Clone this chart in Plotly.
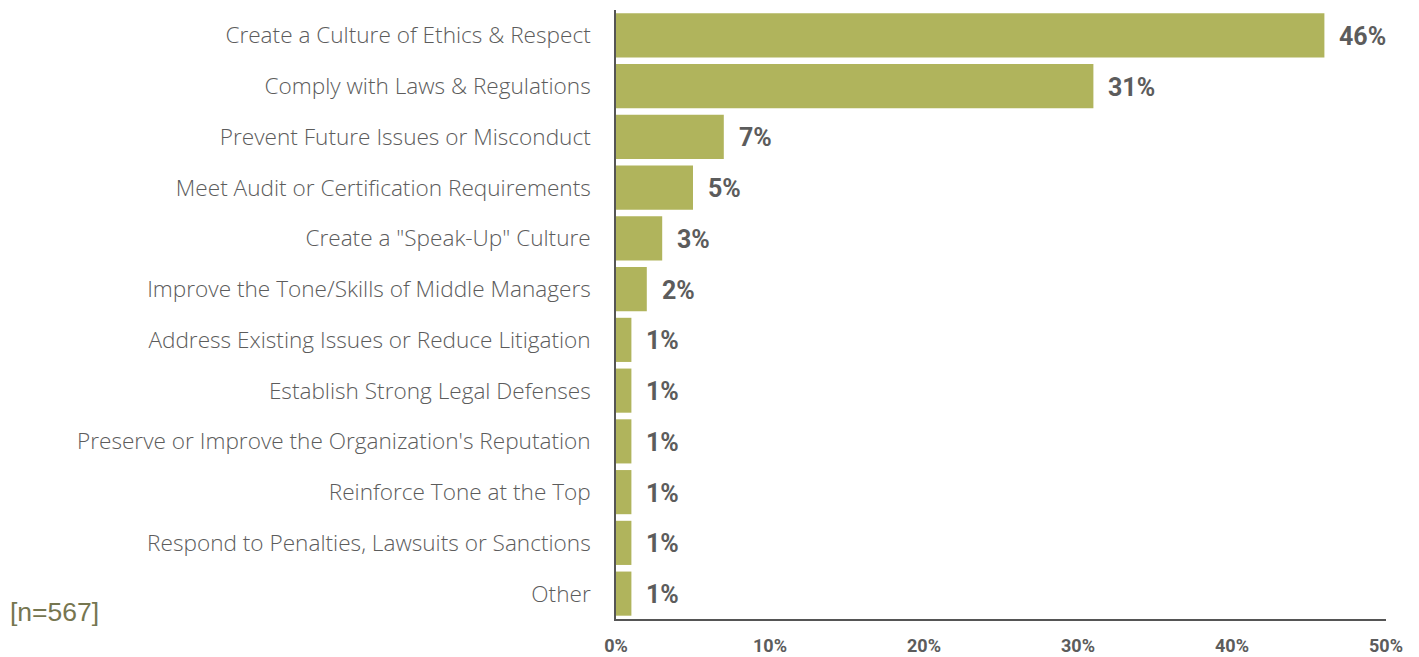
import plotly.graph_objects as go

# Survey responses: primary goal of the ethics & compliance program
categories = [
    "Create a Culture of Ethics & Respect",
    "Comply with Laws & Regulations",
    "Prevent Future Issues or Misconduct",
    "Meet Audit or Certification Requirements",
    "Create a \"Speak-Up\" Culture",
    "Improve the Tone/Skills of Middle Managers",
    "Address Existing Issues or Reduce Litigation",
    "Establish Strong Legal Defenses",
    "Preserve or Improve the Organization's Reputation",
    "Reinforce Tone at the Top",
    "Respond to Penalties, Lawsuits or Sanctions",
    "Other",
]
values = [46, 31, 7, 5, 3, 2, 1, 1, 1, 1, 1, 1]
x_ticks = [0, 10, 20, 30, 40, 50]
x_tick_labels = ["0%", "10%", "20%", "30%", "40%", "50%"]
sample_note = "[n=567]"

BAR_COLOR = "#b0b45c"
LABEL_GREY = "#5c5c5c"
AXIS_GREY = "#555555"

fig = go.Figure()
fig.add_trace(go.Bar(
    x=values,
    y=categories,
    orientation="h",
    marker=dict(color=BAR_COLOR, line=dict(width=0)),
    hoverinfo="skip",
))

# Value labels placed just past the end of each bar
for cat, val in zip(categories, values):
    fig.add_annotation(
        x=val, y=cat, xref="x", yref="y",
        text=f"{val}%", showarrow=False,
        xanchor="left", yanchor="middle", xshift=13, yshift=-1,
        font=dict(family="Roboto", size=25, color=LABEL_GREY, weight="bold"),
    )

fig.add_annotation(
    x=-0.789, y=0.012, xref="paper", yref="paper",
    text=sample_note, showarrow=False,
    xanchor="left", yanchor="middle",
    font=dict(family="Liberation Sans", size=26.5, color="#767650"),
)

fig.update_layout(
    width=1419, height=657,
    margin=dict(l=616, r=33, t=10, b=38, autoexpand=False),
    plot_bgcolor="white", paper_bgcolor="white",
    bargap=0.13,
    showlegend=False,
    xaxis=dict(
        range=[0, 50],
        tickvals=x_ticks, ticktext=x_tick_labels,
        showgrid=False, zeroline=False, automargin=False,
        showline=True, linecolor=AXIS_GREY, linewidth=1.5,
        ticks="", ticklabelstandoff=10,
        tickfont=dict(family="Roboto", size=18, color=LABEL_GREY, weight="bold"),
    ),
    yaxis=dict(
        categoryorder="array", categoryarray=categories,
        autorange="reversed", automargin=False,
        showgrid=False, zeroline=False,
        showline=True, linecolor=AXIS_GREY, linewidth=1.5,
        ticks="", ticklabelstandoff=19,
        tickfont=dict(family="Open Sans", size=22.6, color=LABEL_GREY, weight=300),
    ),
)

fig.write_html("out.html")
